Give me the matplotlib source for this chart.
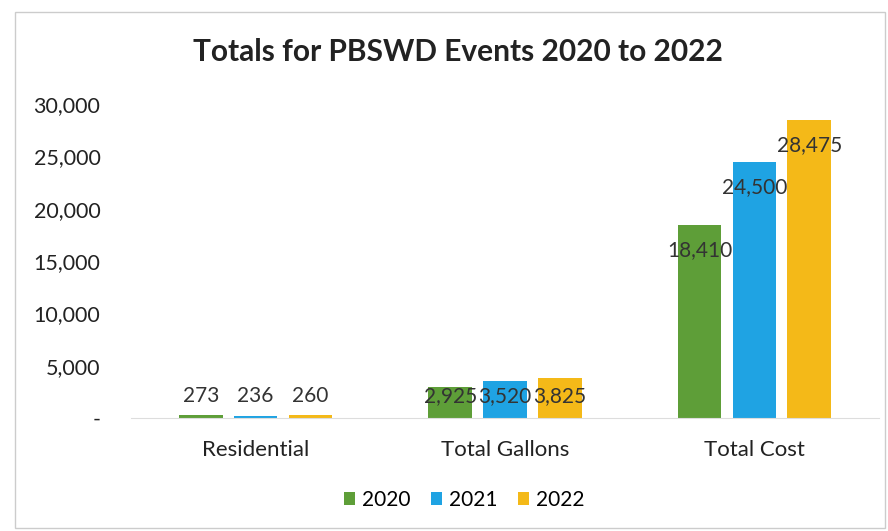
import matplotlib.pyplot as plt
import numpy as np

categories = ["Residential", "Total Gallons", "Total Cost"]
years = ["2020", "2021", "2022"]
values_2020 = [273, 2925, 18410]
values_2021 = [236, 3520, 24500]
values_2022 = [260, 3825, 28475]
yticks = [0, 5000, 10000, 15000, 20000, 25000, 30000]

colors = ["#5E9E38", "#1FA3E3", "#F4B918"]
plt.rcParams['font.family'] = ['Lato', 'DejaVu Sans']

fig = plt.figure(figsize=(8.88, 5.31), dpi=100)
fig.patch.set_facecolor("white")
ax = fig.add_axes([131 / 888, 1 - 418 / 531, 748 / 888, 314 / 531])
ax.set_facecolor("white")

x = np.arange(len(categories))
width = 0.175
offset = 0.22
series = [values_2020, values_2021, values_2022]
for i, (vals, col, yr) in enumerate(zip(series, colors, years)):
    pos = x + (i - 1) * offset
    ax.bar(pos, vals, width, color=col, label=yr, zorder=2)
    for px, v in zip(pos, vals):
        ax.text(px, max(v - 2400, 2100), f"{v:,}", ha="center", va="center",
                fontsize=15, color="#333333", zorder=3)

ax.set_xlim(-0.5, 2.5)
ax.set_ylim(0, 30000)
ax.set_yticks(yticks)
ax.set_yticklabels(["-" if t == 0 else f"{t:,}" for t in yticks], fontsize=15.5, color="#222222")
ax.set_xticks(x)
ax.set_xticklabels(categories, fontsize=16, color="#222222")
ax.tick_params(axis="y", length=0, pad=22)
ax.tick_params(axis="x", length=0, pad=16)
for s in ["top", "right", "left"]:
    ax.spines[s].set_visible(False)
ax.spines["bottom"].set_color("#dddddd")

fig.text(458 / 888, 1 - 52 / 531, "Totals for PBSWD Events 2020 to 2022",
         ha="center", va="center", fontsize=21.5, fontweight="bold", color="#222222")

leg = ax.legend(loc="center", bbox_to_anchor=(464 / 888, 1 - 500 / 531),
                bbox_transform=fig.transFigure, ncol=3, frameon=False, fontsize=15,
                handlelength=0.55, handleheight=0.55, handletextpad=0.3, columnspacing=1.0)

# faint frame around the picture
fig.add_artist(plt.Rectangle((15 / 888, 0.005), 1 - 15 / 888 - 0.003, 1 - 0.005 - 12 / 531,
                             transform=fig.transFigure, fill=False, edgecolor="#cccccc", lw=1))

fig.savefig("out.png", dpi=100)
